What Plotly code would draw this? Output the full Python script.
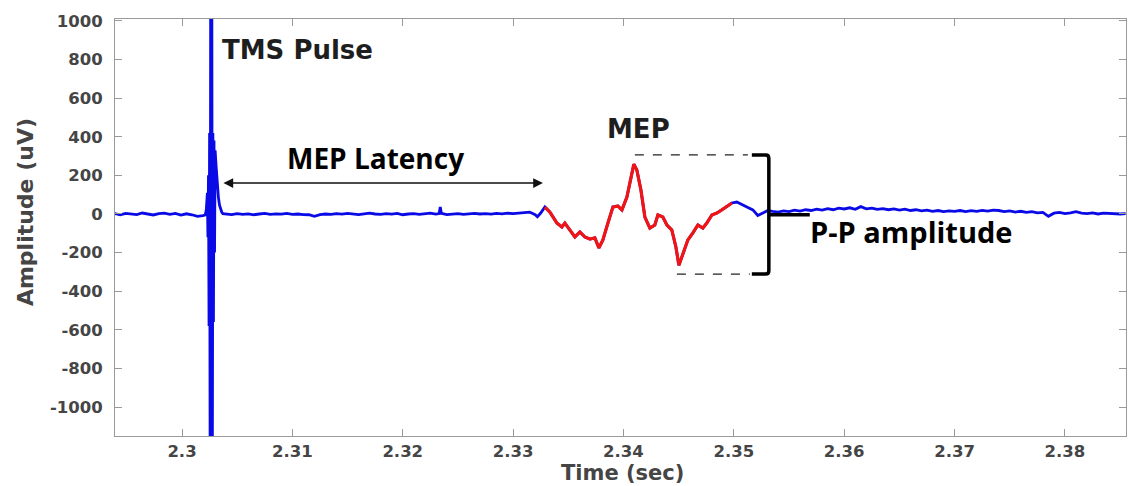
import plotly.graph_objects as go

# ---------------- data ----------------
# baseline before the TMS pulse
pre_t = [2.2939, 2.2944, 2.2949, 2.2954, 2.2959, 2.2964, 2.2969, 2.2974, 2.2979,
         2.2984, 2.2989, 2.2994, 2.2999, 2.3004, 2.3009, 2.3014, 2.3019]
pre_v = [2, -4, 3, 0, -3, 5, 1, -5, 2, 4, -2, 3, -6, 1, -4, -12, -8]

# TMS pulse artefact
pulse_t = [2.3021, 2.3022, 2.30225, 2.3023, 2.30235, 2.3024, 2.30245, 2.3025, 2.30255,
           2.3026, 2.30265, 2.3027, 2.30275, 2.3028, 2.30285, 2.3029, 2.30295, 2.3030,
           2.3031, 2.3032, 2.3033, 2.3034, 2.3035, 2.3036, 2.3037]
pulse_v = [-5, 20, 70, 110, -120, 200, -580, 420, -1300,
           1300, -1300, 1300, -1300, 420, -560, 380, -200, 330,
           240, 150, 85, 45, 22, 10, 2]

# baseline between pulse and MEP (latency period)
lat_t = [2.3040, 2.3045, 2.3050, 2.3055, 2.3060, 2.3065, 2.3070, 2.3075, 2.3080, 2.3085,
         2.3090, 2.3095, 2.3100, 2.3105, 2.3110, 2.3115, 2.3120, 2.3125, 2.3130, 2.3135,
         2.3140, 2.3145, 2.3150, 2.3155, 2.3160, 2.3165, 2.3170, 2.3175, 2.3180, 2.3185,
         2.3190, 2.3195, 2.3200, 2.3205, 2.3210, 2.3215, 2.3220, 2.3225, 2.3230, 2.3233,
         2.3234, 2.3235, 2.3240, 2.3245, 2.3250, 2.3255, 2.3260, 2.3265, 2.3270, 2.3275,
         2.3280, 2.3285, 2.3290, 2.3295, 2.3300, 2.3305, 2.3310, 2.3315, 2.3320, 2.3322,
         2.3325]
lat_v = [0, -3, 2, -2, 1, -4, 0, 3, -2, 1,
         -1, 3, -2, 0, -3, -4, -12, -3, 0, -2,
         2, -1, 3, 0, -3, 1, 4, 0, -2, 2,
         -1, 3, -4, 0, 2, -2, 1, 4, -1, 2,
         36, 3, -3, 0, 2, -2, 1, 3, 0, 2,
         -1, 3, 1, 4, 2, 5, 8, 10, -4, -14,
         5]

# motor evoked potential (red part)
mep_t = [2.33288, 2.33333, 2.33397, 2.33442, 2.33469, 2.33514, 2.33560, 2.33605, 2.33650,
         2.33696, 2.33741, 2.33777, 2.33813, 2.33859, 2.33904, 2.33949, 2.33986, 2.34031,
         2.34067, 2.34094, 2.34121, 2.34158, 2.34194, 2.34239, 2.34284, 2.34312, 2.34357,
         2.34393, 2.34438, 2.34475, 2.34502, 2.34538, 2.34583, 2.34629, 2.34674, 2.34719,
         2.34755, 2.34801, 2.34846, 2.34891, 2.34937, 2.34982]
mep_v = [36, 10, -47, -67, -47, -83, -119, -93, -119,
         -130, -124, -176, -135, -47, 36, 41, 21, 88,
         192, 258, 228, 124, -16, -73, -57, -5, -16,
         -57, -83, -171, -266, -212, -135, -98, -57, -73,
         -47, -5, 5, 21, 41, 57]

# baseline after the MEP
post_t = [2.35027, 2.35072, 2.35118, 2.35172, 2.35217, 2.35263, 2.35308,
          2.3535, 2.3540, 2.3545, 2.3550, 2.3555, 2.3560, 2.3565, 2.3570, 2.3575, 2.3580,
          2.3585, 2.3590, 2.3595, 2.3600, 2.3605, 2.3610, 2.3615, 2.3620, 2.3625, 2.3630,
          2.3635, 2.3640, 2.3645, 2.3650, 2.3655, 2.3660, 2.3665, 2.3670, 2.3675, 2.3680,
          2.3685, 2.3690, 2.3695, 2.3700, 2.3705, 2.3710, 2.3715, 2.3720, 2.3725, 2.3730,
          2.3735, 2.3740, 2.3745, 2.3750, 2.3755, 2.3760, 2.3765, 2.3770, 2.3775, 2.3780,
          2.3785, 2.3790, 2.3795, 2.3800, 2.3805, 2.3810, 2.3815, 2.3820, 2.3825, 2.3830,
          2.3835, 2.3840, 2.3845, 2.3850, 2.3855]
post_v = [62, 47, 36, 21, -8, 5, 18,
          14, 10, 16, 12, 20, 15, 22, 18, 25, 20,
          28, 22, 30, 26, 32, 24, 38, 27, 30, 24,
          28, 22, 26, 20, 25, 18, 22, 16, 20, 14,
          18, 12, 16, 14, 18, 12, 17, 14, 19, 15,
          20, 18, 12, 16, 10, 14, 8, 12, 6, 8,
          -12, 4, 8, 2, 6, 12, 4, 2, 6, 0,
          4, 2, 3, 0, 2]

x_tickvals = [2.30, 2.31, 2.32, 2.33, 2.34, 2.35, 2.36, 2.37, 2.38]
x_ticktext = ["2.3", "2.31", "2.32", "2.33", "2.34", "2.35", "2.36", "2.37", "2.38"]
y_tickvals = [-1000, -800, -600, -400, -200, 0, 200, 400, 600, 800, 1000]
y_ticktext = ["-1000", "-800", "-600", "-400", "-200", "0", "200", "400", "600", "800", "1000"]

# ---------------- figure ----------------
all_t = pre_t + pulse_t + lat_t + mep_t + post_t
all_v = pre_v + pulse_v + lat_v + mep_v + post_v

fig = go.Figure()
fig.add_trace(go.Scatter(x=all_t, y=all_v, mode="lines",
                         line=dict(color="#0a0ae6", width=2.8), showlegend=False))
fig.add_trace(go.Scatter(x=mep_t, y=mep_v, mode="lines",
                         line=dict(color="#f01414", width=3.2), showlegend=False))

GRAY = "#454545"
AXC = "#9a9a9a"
helv = dict(family="DejaVu Sans", weight="bold")

fig.update_xaxes(range=[2.29393, 2.38553], tickvals=x_tickvals, ticktext=x_ticktext,
                 ticks="inside", ticklen=7, tickcolor=AXC, showline=True, linecolor=AXC,
                 linewidth=1, mirror="ticks", showgrid=False, zeroline=False,
                 tickfont=dict(size=16.5, color=GRAY, **helv), ticklabelstandoff=0)
fig.update_yaxes(range=[-1150, 1010], tickvals=y_tickvals, ticktext=y_ticktext,
                 ticks="inside", ticklen=7, tickcolor=AXC, showline=True, linecolor=AXC,
                 linewidth=1, mirror="ticks", showgrid=False, zeroline=False,
                 tickfont=dict(size=16.5, color=GRAY, **helv), ticklabelstandoff=8)

# bracket / dashed guides
top_pp, bot_pp = 306, -311
br_x = 2.35317
fig.add_shape(type="line", x0=2.34103, x1=2.35127, y0=top_pp, y1=top_pp,
              line=dict(color="#222", width=1.2, dash="dash"))
fig.add_shape(type="line", x0=2.34484, x1=2.35145, y0=bot_pp, y1=bot_pp,
              line=dict(color="#222", width=1.2, dash="dash"))
fig.add_shape(type="path",
              path=(f"M 2.35163,{top_pp} L 2.35290,{top_pp} Q {br_x},{top_pp} {br_x},{top_pp-18} "
                    f"L {br_x},{bot_pp+18} Q {br_x},{bot_pp} 2.35290,{bot_pp} L 2.35163,{bot_pp}"),
              line=dict(color="black", width=3.5))
fig.add_shape(type="line", x0=br_x, x1=2.35688, y0=-4, y1=-4,
              line=dict(color="black", width=3.5))

annots = [
    dict(x=2.30344, y=850, text="TMS Pulse", xanchor="left", yanchor="middle",
         showarrow=False, font=dict(size=26, color="#1e1e1e", **helv)),
    dict(x=2.34140, y=440, text="MEP", xanchor="center", yanchor="middle",
         showarrow=False, font=dict(size=26, color="#1e1e1e", **helv)),
    dict(x=2.31757, y=290, text="MEP Latency", xanchor="center", yanchor="middle",
         showarrow=False, font=dict(size=28, color="black", family="Open Sans", weight="bold")),
    dict(x=2.35670, y=-93, text="P-P amplitude", xanchor="left", yanchor="middle",
         showarrow=False, font=dict(size=29, color="black", family="Open Sans", weight="bold")),
    # double-headed latency arrow
    dict(x=2.33270, y=160, ax=2.30362, ay=160, xref="x", yref="y", axref="x", ayref="y",
         text="", showarrow=True, arrowhead=2, startarrowhead=2, arrowside="end+start",
         arrowsize=1.3, startarrowsize=1.3, arrowwidth=1.5, arrowcolor="#111"),
    # axis titles
    dict(x=0.5015, y=-0.089, xref="paper", yref="paper", text="Time (sec)",
         showarrow=False, xanchor="center", yanchor="middle",
         font=dict(size=21, color=GRAY, **helv)),
    dict(x=-0.089, y=0.537, xref="paper", yref="paper", text="Amplitude (uV)",
         showarrow=False, textangle=-90, xanchor="center", yanchor="middle",
         font=dict(size=22, color=GRAY, **helv)),
]
for a in annots:
    fig.add_annotation(**a)

fig.update_layout(width=1128, height=486, margin=dict(l=115, r=2, t=19, b=50),
                  paper_bgcolor="white", plot_bgcolor="white", showlegend=False)

fig.write_html("out.html")
